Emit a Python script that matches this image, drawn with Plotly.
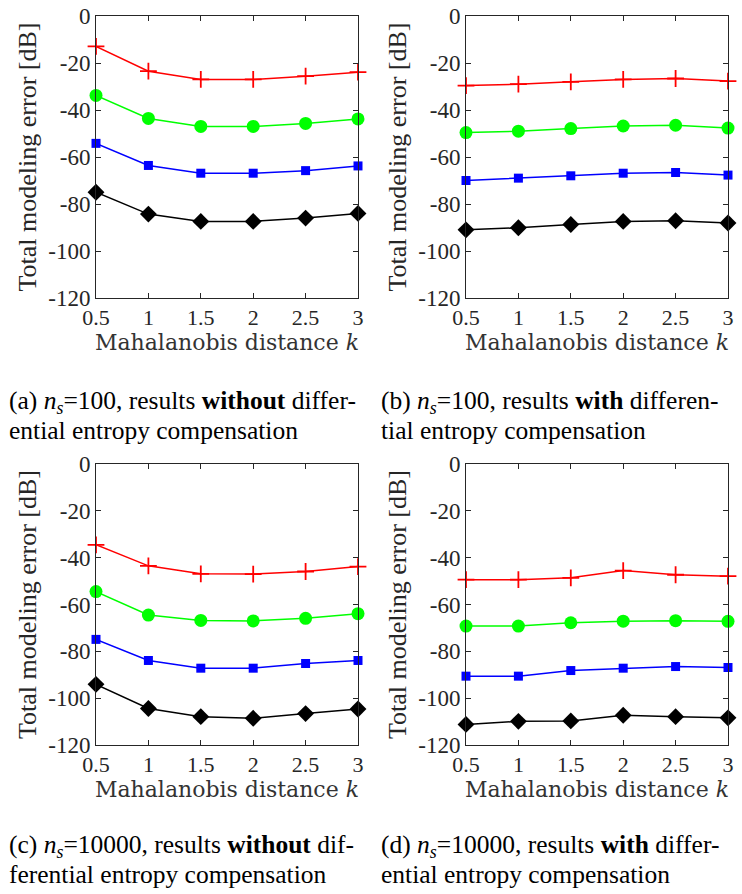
import plotly.graph_objects as go

k_values = [0.5, 1, 1.5, 2, 2.5, 3]
x_tick_labels = ["0.5", "1", "1.5", "2", "2.5", "3"]
y_tick_values = [0, -20, -40, -60, -80, -100, -120]
y_tick_labels = ["0", "-20", "-40", "-60", "-80", "-100", "-120"]

# panel (a): n_s=100, without compensation
a_red = [-12.9, -23.5, -27.0, -27.0, -25.6, -23.9]
a_green = [-33.8, -43.6, -47.0, -47.0, -45.7, -43.8]
a_blue = [-54.2, -63.6, -66.9, -66.9, -65.8, -63.8]
a_black = [-75.0, -84.3, -87.4, -87.4, -86.0, -84.0]
# panel (b): n_s=100, with compensation
b_red = [-29.6, -29.0, -28.0, -27.0, -26.6, -27.7]
b_green = [-49.6, -49.0, -47.9, -46.8, -46.5, -47.7]
b_blue = [-70.0, -69.0, -68.0, -66.9, -66.6, -67.7]
b_black = [-91.0, -90.1, -88.7, -87.4, -87.1, -88.1]
# panel (c): n_s=10000, without compensation
c_red = [-34.5, -43.5, -46.9, -47.0, -45.9, -43.8]
c_green = [-54.5, -64.5, -66.8, -67.0, -65.9, -63.9]
c_blue = [-74.9, -83.9, -87.2, -87.2, -85.2, -83.9]
c_black = [-94.1, -104.4, -107.9, -108.6, -106.6, -104.6]
# panel (d): n_s=10000, with compensation
d_red = [-49.4, -49.4, -48.6, -45.5, -47.3, -47.9]
d_green = [-69.2, -69.2, -67.8, -67.1, -66.9, -67.2]
d_blue = [-90.6, -90.6, -88.2, -87.2, -86.5, -86.9]
d_black = [-111.2, -109.9, -109.7, -107.3, -107.9, -108.4]

caption_lines = [
    ["(a) <i>n<sub>s</sub></i>=100, results <b>without</b> differ-", "ential entropy compensation"],
    ["(b) <i>n<sub>s</sub></i>=100, results <b>with</b> differen-", "tial entropy compensation"],
    ["(c) <i>n<sub>s</sub></i>=10000, results <b>without</b> dif-", "ferential entropy compensation"],
    ["(d) <i>n<sub>s</sub></i>=10000, results <b>with</b> differ-", "ential entropy compensation"],
]

panels = [
    [a_red, a_green, a_blue, a_black],
    [b_red, b_green, b_blue, b_black],
    [c_red, c_green, c_blue, c_black],
    [d_red, d_green, d_blue, d_black],
]

W, H = 742, 894
FONT = "Liberation Serif"
AXC = "#262626"
styles = [
    dict(color="#ff0000", symbol="cross-thin", size=12, mline=1.8),
    dict(color="#00ff00", symbol="circle", size=13, mline=0),
    dict(color="#0000ff", symbol="square", size=9, mline=0),
    dict(color="#000000", symbol="diamond", size=13, mline=0),
]

# plot area screen-pixel boxes (left, right, top, bottom)
boxes = [(96, 358, 16, 298), (466, 728, 16, 298), (96, 358, 464, 745), (466, 728, 464, 745)]

fig = go.Figure()
for i, (series, box) in enumerate(zip(panels, boxes)):
    xa = "x" if i == 0 else f"x{i+1}"
    ya = "y" if i == 0 else f"y{i+1}"
    for s, st in zip(series, styles):
        fig.add_trace(go.Scatter(
            x=k_values, y=s, mode="lines+markers", xaxis=xa, yaxis=ya,
            line=dict(color=st["color"], width=1.5),
            marker=dict(symbol=st["symbol"], size=st["size"], color=st["color"],
                        line=dict(color=st["color"], width=st["mline"])),
            cliponaxis=False, showlegend=False,
        ))
    l, r, t, b = box
    axcommon = dict(showline=True, mirror="allticks", linecolor=AXC, linewidth=1,
                    ticks="inside", ticklen=5, tickcolor=AXC, showgrid=False,
                    zeroline=False, automargin=False, ticklabeloverflow="allow")
    xkey = "xaxis" if i == 0 else f"xaxis{i+1}"
    ykey = "yaxis" if i == 0 else f"yaxis{i+1}"
    fig.update_layout({
        xkey: dict(domain=[l / W, r / W], anchor=ya, range=[0.5, 3],
                   tickvals=k_values, ticktext=x_tick_labels,
                   tickfont=dict(family=FONT, size=22, color=AXC),
                   title=dict(text="Mahalanobis distance <i>k</i>", standoff=3,
                              font=dict(family="DejaVu Serif", size=22, color="#333333")),
                   **axcommon),
        ykey: dict(domain=[1 - b / H, 1 - t / H], anchor=xa, range=[-120, 0],
                   tickvals=y_tick_values, ticktext=y_tick_labels,
                   tickfont=dict(family=FONT, size=23, color=AXC),
                   title=dict(text="Total modeling error [dB]", standoff=4,
                              font=dict(family=FONT, size=26, color=AXC)),
                   **axcommon),
    })

cap_x = [8, 380, 8, 380]
cap_base = [413, 413, 857, 857]
LINE_GAP = 27
for lines, cx, cb in zip(caption_lines, cap_x, cap_base):
    for j, txt in enumerate(lines):
        base = cb + j * LINE_GAP
        fig.add_annotation(text=txt, x=cx / W, y=1 - (base + 6) / H,
                           xref="paper", yref="paper",
                           xanchor="left", yanchor="bottom", align="left", showarrow=False,
                           borderpad=0,
                           font=dict(family=FONT, size=25.5, color="#000000"))

fig.update_layout(width=W, height=H, margin=dict(l=0, r=0, t=0, b=0),
                  paper_bgcolor="white", plot_bgcolor="white")
fig.write_html("out.html", config={"displayModeBar": False},
               post_script="document.body.style.margin='0';document.body.style.overflow='hidden';")
